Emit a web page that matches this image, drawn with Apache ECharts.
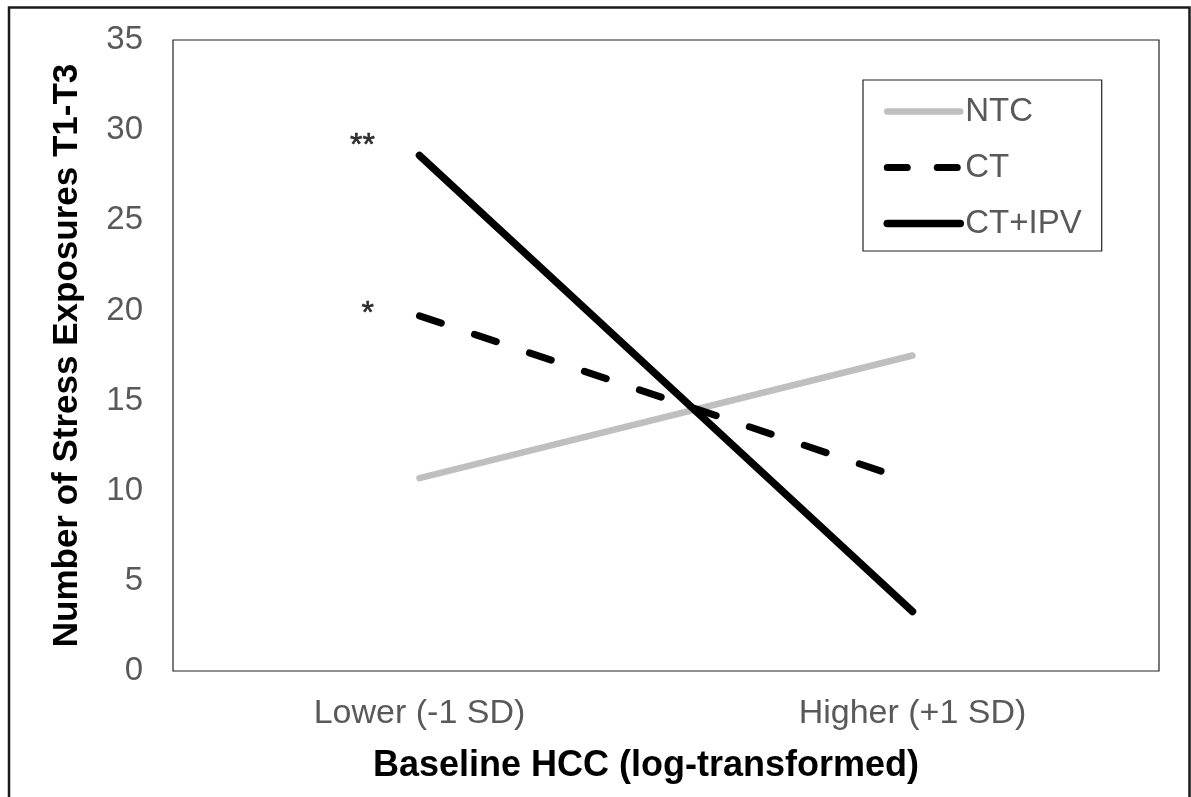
<!DOCTYPE html>
<html>
<head>
<meta charset="utf-8">
<script src="https://cdn.jsdelivr.net/npm/echarts@6/dist/echarts.min.js"></script>
<style>
html,body{margin:0;padding:0;background:#fff;}
#chart{width:1191px;height:797px;}
</style>
</head>
<body>
<div id="chart"></div>
<script>
const categories = ['Lower (-1 SD)', 'Higher (+1 SD)'];
const seriesNames = ['NTC', 'CT', 'CT+IPV'];
const ntcValues = [10.7, 17.5];
const ctValues = [19.7, 10.5];
const ctIpvValues = [28.6, 3.3];
const yTicks = [0, 5, 10, 15, 20, 25, 30, 35];
const annotations = [
  { series: 'CT+IPV', category: 'Lower (-1 SD)', text: '**' },
  { series: 'CT', category: 'Lower (-1 SD)', text: '*' }
];
const xTitle = 'Baseline HCC (log-transformed)';
const yTitle = 'Number of Stress Exposures T1-T3';

const valuesByName = { 'NTC': ntcValues, 'CT': ctValues, 'CT+IPV': ctIpvValues };
const FONT = '"Liberation Sans", Arial, sans-serif';

const styles = {
  'NTC': { color: '#bfbfbf', width: 6.5, type: 'solid' },
  'CT': { color: '#000', width: 7, type: [23, 35] },
  'CT+IPV': { color: '#000', width: 7.5, type: 'solid' }
};

const chart = echarts.init(document.getElementById('chart'), null, { renderer: 'canvas' });

const annotData = annotations.map(a => ({
  value: [a.category, valuesByName[a.series][categories.indexOf(a.category)]],
  label: { formatter: a.text, offset: a.text === '**' ? [0, -9] : [-1, -2] }
}));

chart.setOption({
  backgroundColor: '#fff',
  animation: false,
  graphic: [{
    type: 'rect',
    shape: { x: 9, y: 7.5, width: 1180.5, height: 820 },
    style: { fill: 'none', stroke: '#1a1a1a', lineWidth: 2.5 },
    silent: true
  }],
  grid: {
    left: 173, right: 32, top: 40, bottom: 126,
    show: true, borderColor: '#222', borderWidth: 1.2, backgroundColor: 'transparent'
  },
  legend: {
    orient: 'vertical',
    left: 863, top: 80,
    padding: [15, 20, 11, 20.5],
    itemWidth: 73, itemHeight: 8, itemGap: 23,
    borderColor: '#222', borderWidth: 1.2,
    data: seriesNames.map(n => ({
      name: n,
      itemStyle: { color: 'rgba(0,0,0,0)', opacity: 0 },
      lineStyle: { color: styles[n].color, width: styles[n].width, type: n === 'CT' ? [20, 30] : styles[n].type, cap: 'round' }
    })),
    textStyle: { fontFamily: FONT, fontSize: 33, color: '#595959', lineHeight: 30, padding: [0, 0, 0, 0] }
  },
  xAxis: {
    type: 'category',
    data: categories,
    boundaryGap: true,
    axisLine: { show: false },
    axisTick: { show: false },
    axisLabel: { fontFamily: FONT, fontSize: 34, color: '#595959', margin: 26 },
    name: xTitle,
    nameLocation: 'middle',
    nameGap: 77,
    nameTextStyle: { fontFamily: FONT, fontSize: 36, fontWeight: 'bold', color: '#000', padding: [0, 40, 0, 0] }
  },
  yAxis: {
    type: 'value',
    min: 0, max: 35, interval: 5,
    axisLine: { show: false },
    axisTick: { show: false },
    splitLine: { show: false },
    axisLabel: {
      fontFamily: FONT, fontSize: 33, color: '#595959', margin: 30,
      formatter: v => yTicks.includes(v) ? String(v) : ''
    },
    name: yTitle,
    nameLocation: 'middle',
    nameGap: 88,
    nameRotate: 90,
    nameTextStyle: { fontFamily: FONT, fontSize: 35, fontWeight: 'bold', color: '#000' }
  },
  series: [
    ...seriesNames.map(n => ({
      name: n, type: 'line', data: valuesByName[n], symbol: 'none',
      lineStyle: { color: styles[n].color, width: styles[n].width, type: styles[n].type, cap: 'round' },
      itemStyle: { color: styles[n].color }
    })),
    {
      name: 'annotations', type: 'scatter', data: annotData,
      symbolSize: 1, itemStyle: { color: 'rgba(0,0,0,0)' },
      label: {
        show: true, position: 'left', distance: 44,
        fontFamily: FONT, fontSize: 32, color: '#000',
        textBorderColor: '#000', textBorderWidth: 0.6
      },
      silent: true
    }
  ]
});
</script>
</body>
</html>
